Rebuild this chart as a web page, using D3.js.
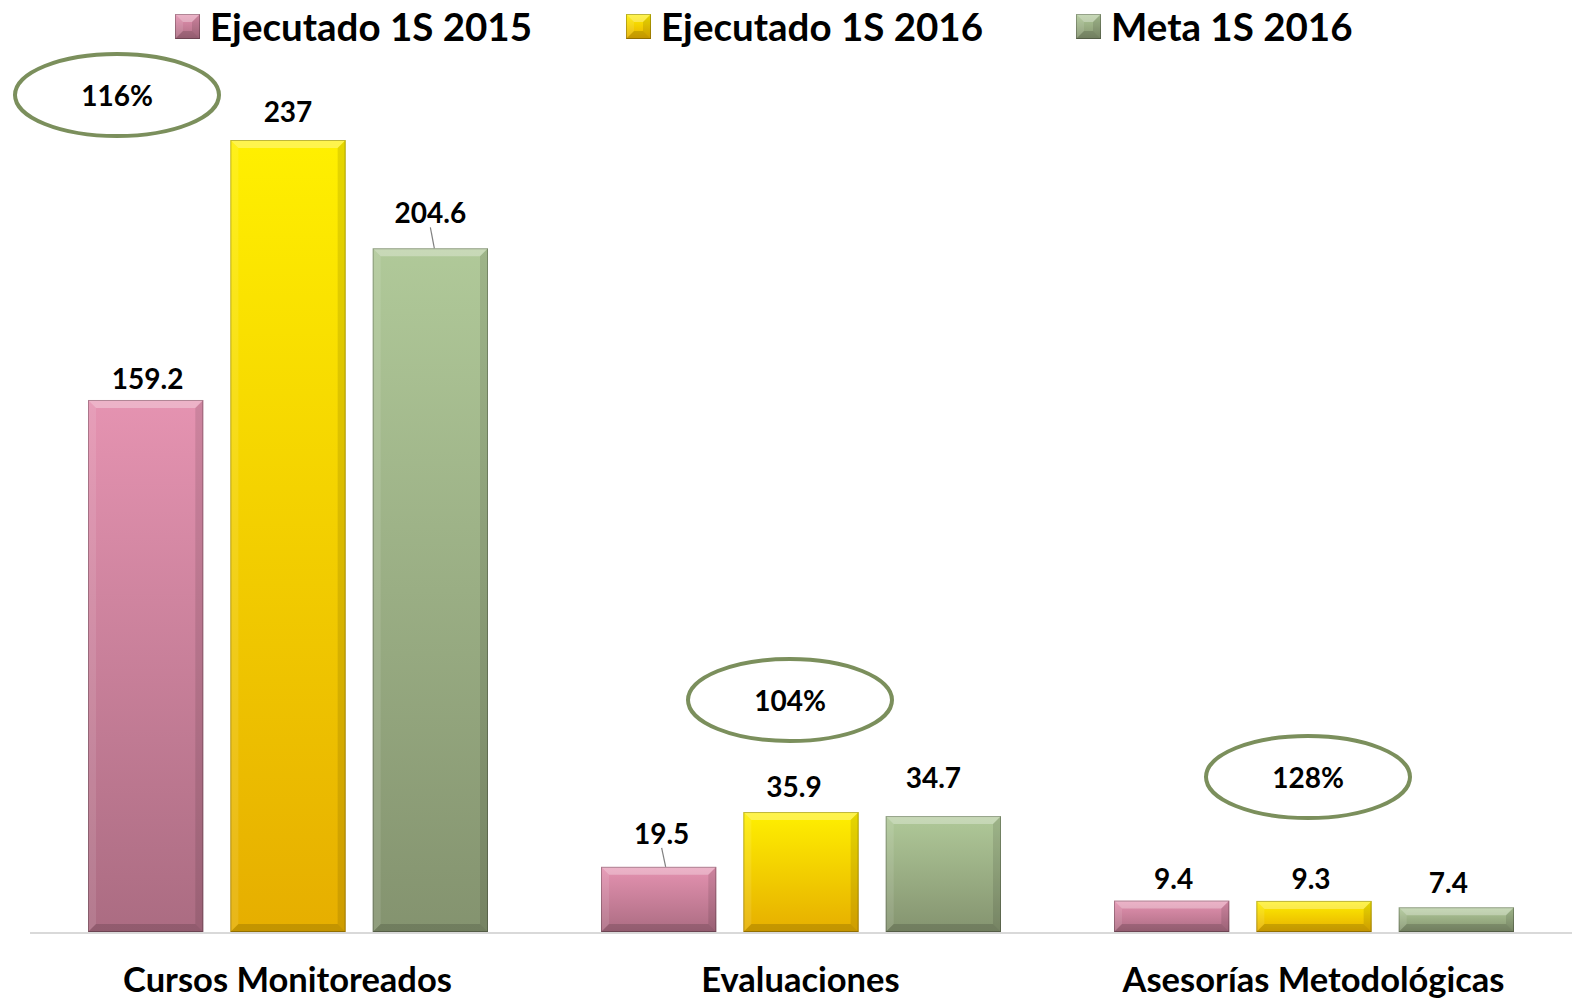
<!DOCTYPE html>
<html>
<head>
<meta charset="utf-8">
<script src="https://d3js.org/d3.v7.min.js"></script>
<style>
  body { margin: 0; background: #fff; }
  svg text { font-family: Lato, "Open Sans", sans-serif; font-weight: bold; fill: #000; }
</style>
</head>
<body>
<div id="chart"></div>
<script>
// data
let categories = ["Cursos Monitoreados", "Evaluaciones", "Asesorías Metodológicas"];
let series = ["Ejecutado 1S 2015", "Ejecutado 1S 2016", "Meta 1S 2016"];
let ejecutado2015 = [159.2, 19.5, 9.4];
let ejecutado2016 = [237, 35.9, 9.3];
let meta2016 = [204.6, 34.7, 7.4];
let percentLabels = ["116%", "104%", "128%"];

let values = [ejecutado2015, ejecutado2016, meta2016];

// colours: [top, bottom] of each bar gradient
let colors = [
  ["#e593b1", "#ab6c82"],
  ["#fff000", "#e6ae00"],
  ["#b0c999", "#84936f"]
];

let svgWidth = 1572, svgHeight = 1000;
let baseY = 932, topY = 140;

let svg = d3.select("#chart").append("svg")
  .attr("width", svgWidth)
  .attr("height", svgHeight);

let defs = svg.append("defs");
colors.forEach(function(c, i) {
  let g = defs.append("linearGradient")
    .attr("id", "grad" + i)
    .attr("x1", 0).attr("y1", 0).attr("x2", 0).attr("y2", 1);
  g.append("stop").attr("offset", "0%").attr("stop-color", c[0]);
  g.append("stop").attr("offset", "100%").attr("stop-color", c[1]);
});

let x0 = d3.scaleBand().domain(categories).range([31, 1570]);
let x1 = d3.scaleBand().domain(d3.range(series.length)).range([57, 457]).paddingInner(0.19);
let y = d3.scaleLinear().domain([0, 237]).range([baseY, topY]);

// baseline
svg.append("line")
  .attr("x1", 30).attr("x2", svgWidth)
  .attr("y1", baseY + 1).attr("y2", baseY + 1)
  .attr("stroke", "#d9d9d9").attr("stroke-width", 2);

// bevelled bar drawing
function bevelBar(g, x, yTop, w, h, i) {
  let b = Math.min(8, h / 2);
  g.append("rect")
    .attr("x", x).attr("y", yTop).attr("width", w).attr("height", h)
    .attr("fill", "url(#grad" + i + ")");
  // top bevel, lighter
  g.append("polygon")
    .attr("points", [[x, yTop], [x + w, yTop], [x + w - b, yTop + b], [x + b, yTop + b]].join(" "))
    .attr("fill", "#fff").attr("fill-opacity", 0.3);
  // left bevel
  g.append("polygon")
    .attr("points", [[x, yTop], [x + b, yTop + b], [x + b, yTop + h - b], [x, yTop + h]].join(" "))
    .attr("fill", "#fff").attr("fill-opacity", 0.1);
  // right bevel, darker
  g.append("polygon")
    .attr("points", [[x + w, yTop], [x + w - b, yTop + b], [x + w - b, yTop + h - b], [x + w, yTop + h]].join(" "))
    .attr("fill", "#000").attr("fill-opacity", 0.1);
  // bottom bevel
  g.append("polygon")
    .attr("points", [[x, yTop + h], [x + b, yTop + h - b], [x + w - b, yTop + h - b], [x + w, yTop + h]].join(" "))
    .attr("fill", "#000").attr("fill-opacity", 0.15);
  g.append("rect")
    .attr("x", x + 0.5).attr("y", yTop + 0.5).attr("width", w - 1).attr("height", h - 1)
    .attr("fill", "none").attr("stroke", "#000").attr("stroke-opacity", 0.25);
}

// label nudges [dx, lift above bar top] per series / category
let labelLift = [
  [[2, 22], [3, 34], [2, 23]],
  [[0, 29], [-7, 26], [-3, 23]],
  [[0, 36], [-10, 39], [-8, 25]]
];
let leader = [
  [false, true, false],
  [false, false, false],
  [true, false, false]
];

let groups = svg.selectAll(".cat")
  .data(categories)
  .enter().append("g")
  .attr("class", "cat")
  .attr("transform", function(d) { return "translate(" + x0(d) + ",0)"; });

groups.each(function(cat, ci) {
  let g = d3.select(this);
  series.forEach(function(s, si) {
    let v = values[si][ci];
    let bx = x1(si), bw = x1.bandwidth();
    let yt = y(v);
    bevelBar(g, bx, yt, bw, baseY - yt, si);
    let nudge = labelLift[si][ci];
    let lx = bx + bw / 2 + nudge[0];
    let ly = yt - nudge[1];
    if (leader[si][ci]) {
      g.append("line")
        .attr("x1", lx).attr("y1", ly + 15)
        .attr("x2", bx + bw / 2 + nudge[0] + 4).attr("y2", yt)
        .attr("stroke", "#808080").attr("stroke-width", 1.2);
    }
    g.append("text")
      .attr("x", lx).attr("y", ly)
      .attr("text-anchor", "middle")
      .attr("dominant-baseline", "central")
      .attr("font-size", "28px")
      .text(v);
  });
  g.append("text")
    .attr("x", x0.bandwidth() / 2)
    .attr("y", 978)
    .attr("text-anchor", "middle")
    .attr("dominant-baseline", "central")
    .attr("font-size", "34.5px")
    .text(cat);
});

// percentage ellipses
let ellipseCenters = [[117, 95], [790, 700], [1308, 777]];
percentLabels.forEach(function(p, i) {
  let c = ellipseCenters[i];
  svg.append("ellipse")
    .attr("cx", c[0]).attr("cy", c[1]).attr("rx", 102).attr("ry", 41)
    .attr("fill", "none").attr("stroke", "#7b8f5c").attr("stroke-width", 4);
  svg.append("text")
    .attr("x", c[0]).attr("y", c[1])
    .attr("text-anchor", "middle")
    .attr("dominant-baseline", "central")
    .attr("font-size", "28px")
    .text(p);
});

// legend
let legendX = [175, 626, 1076];
series.forEach(function(s, i) {
  let lg = svg.append("g").attr("transform", "translate(" + legendX[i] + ",14)");
  bevelBar(lg, 0, 0, 25, 25, i);
  lg.append("text")
    .attr("x", 35).attr("y", 12)
    .attr("dominant-baseline", "central")
    .attr("font-size", "38.5px")
    .text(s);
});
</script>
</body>
</html>
